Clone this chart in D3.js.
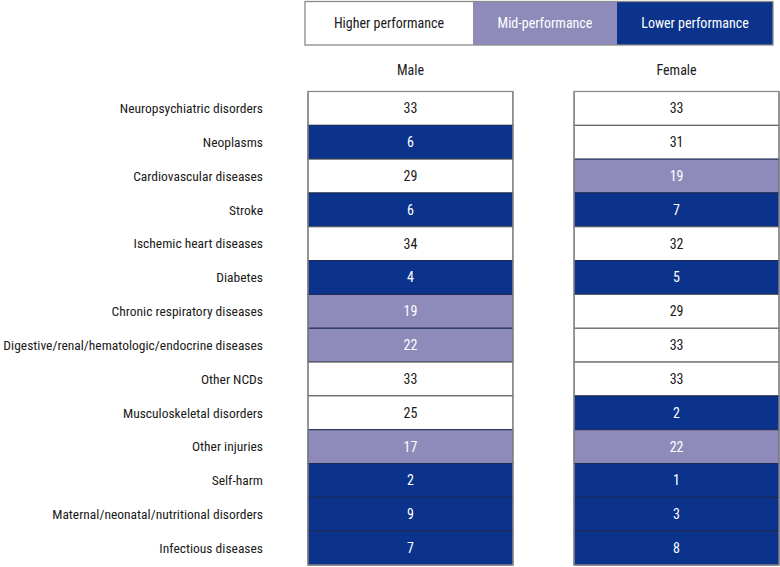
<!DOCTYPE html>
<html>
<head>
<meta charset="utf-8">
<script src="https://cdn.jsdelivr.net/npm/d3@7"></script>
<style>
  html, body { margin: 0; padding: 0; background: #fff; }
  svg { display: block; font-family: "Liberation Sans Narrow", "Arial Narrow", "Roboto Condensed", "DejaVu Sans Condensed", sans-serif; font-weight: 400; }
</style>
</head>
<body>
<svg id="chart" width="780" height="567"></svg>
<script>
const categories = [
  "Neuropsychiatric disorders",
  "Neoplasms",
  "Cardiovascular diseases",
  "Stroke",
  "Ischemic heart diseases",
  "Diabetes",
  "Chronic respiratory diseases",
  "Digestive/renal/hematologic/endocrine diseases",
  "Other NCDs",
  "Musculoskeletal disorders",
  "Other injuries",
  "Self-harm",
  "Maternal/neonatal/nutritional disorders",
  "Infectious diseases"
];
const sexes = ["Male", "Female"];
const maleValues   = [33, 6, 29, 6, 34, 4, 19, 22, 33, 25, 17, 2, 9, 7];
const femaleValues = [33, 31, 19, 7, 32, 5, 29, 33, 33, 2, 22, 1, 3, 8];
const maleLevels   = ["H","L","H","L","H","L","M","M","H","H","M","L","L","L"];
const femaleLevels = ["H","H","M","L","H","L","H","H","H","L","M","L","L","L"];
const levels = ["H", "M", "L"];
const levelLabels = ["Higher performance", "Mid-performance", "Lower performance"];

const fill = d3.scaleOrdinal().domain(levels).range(["#ffffff", "#8e8aba", "#0b338b"]);
const textColor = d3.scaleOrdinal().domain(levels).range(["#1a1a1a", "#ffffff", "#ffffff"]);

const svg = d3.select("#chart");

// Legend
const legendWidths = [168, 144, 156];
const legendTotal = d3.sum(legendWidths);
const legendScale = d3.scaleLinear().domain([0, legendTotal]).range([305, 773]);
const legendStarts = d3.cumsum([0].concat(legendWidths.slice(0, -1)));
const legendY = d3.scaleLinear().domain([0, 1]).range([1.5, 45]);

const lg = svg.append("g");
levels.forEach((lv, i) => {
  const x0 = legendScale(legendStarts[i]);
  const x1 = legendScale(legendStarts[i] + legendWidths[i]);
  lg.append("rect")
    .attr("x", x0).attr("y", legendY(0))
    .attr("width", x1 - x0).attr("height", legendY(1) - legendY(0))
    .attr("fill", fill(lv));
  lg.append("text")
    .attr("x", (x0 + x1) / 2).attr("y", (legendY(0) + legendY(1)) / 2)
    .attr("dy", "0.35em").attr("text-anchor", "middle")
    .attr("font-size", 14).attr("fill", textColor(lv))
    .text(levelLabels[i]);
});
lg.append("rect")
  .attr("x", legendScale(0)).attr("y", legendY(0))
  .attr("width", legendScale(legendTotal) - legendScale(0)).attr("height", legendY(1) - legendY(0))
  .attr("fill", "none").attr("stroke", "#8a8a8a").attr("stroke-width", 1.3);

// Table
const y = d3.scaleBand().domain(categories).range([91.5, 565]);
const x = d3.scaleBand().domain(sexes).range([308, 779]).paddingInner(0.23);

const data = [];
categories.forEach((c, i) => {
  data.push({ cat: c, sex: "Male", value: maleValues[i], level: maleLevels[i] });
  data.push({ cat: c, sex: "Female", value: femaleValues[i], level: femaleLevels[i] });
});

// column headers
svg.append("g").selectAll("text").data(sexes).join("text")
  .attr("x", d => x(d) + x.bandwidth() / 2)
  .attr("y", 70).attr("dy", "0.35em")
  .attr("text-anchor", "middle").attr("font-size", 14).attr("fill", "#1a1a1a")
  .text(d => d);

// row labels
svg.append("g").selectAll("text").data(categories).join("text")
  .attr("x", 263)
  .attr("y", d => y(d) + y.bandwidth() / 2).attr("dy", "0.35em")
  .attr("text-anchor", "end").attr("font-size", 13.5).attr("fill", "#1a1a1a")
  .text(d => d);

const cells = svg.append("g");
cells.selectAll("rect").data(data).join("rect")
  .attr("x", d => x(d.sex)).attr("y", d => y(d.cat))
  .attr("width", x.bandwidth()).attr("height", y.bandwidth())
  .attr("fill", d => fill(d.level))
  .attr("stroke", d => d.level === "H" ? "#555" : "#1b2a55")
  .attr("stroke-width", 1);

cells.selectAll("text").data(data).join("text")
  .attr("x", d => x(d.sex) + x.bandwidth() / 2)
  .attr("y", d => y(d.cat) + y.bandwidth() / 2).attr("dy", "0.35em")
  .attr("text-anchor", "middle").attr("font-size", 14)
  .attr("fill", d => textColor(d.level))
  .text(d => d.value);

// outer borders
svg.append("g").selectAll("rect").data(sexes).join("rect")
  .attr("x", d => x(d)).attr("y", y.range()[0])
  .attr("width", x.bandwidth()).attr("height", y.range()[1] - y.range()[0])
  .attr("fill", "none").attr("stroke", "#8a8a8a").attr("stroke-width", 1.3);
</script>
</body>
</html>
